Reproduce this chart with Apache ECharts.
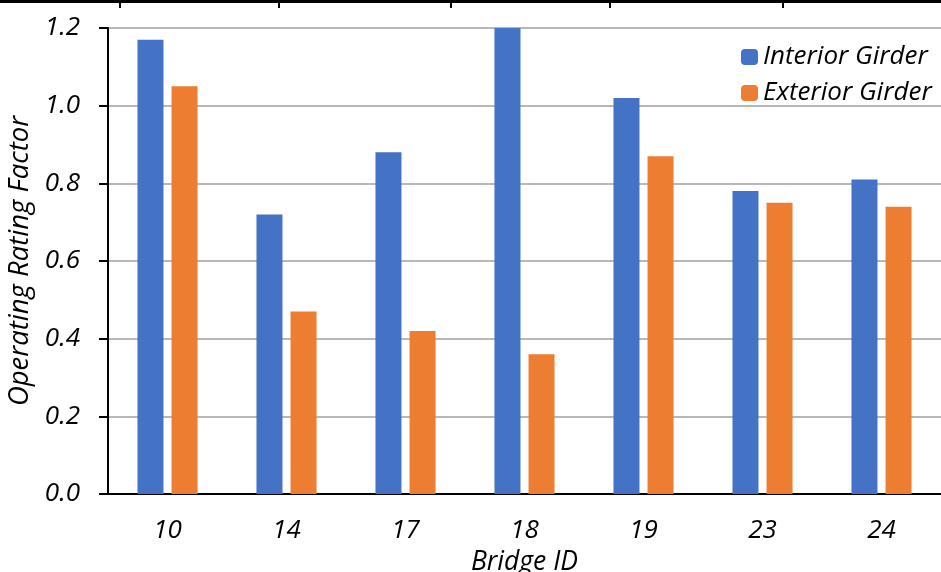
<!DOCTYPE html>
<html><head><meta charset="utf-8">
<script src="https://cdn.jsdelivr.net/npm/echarts@6/dist/echarts.min.js"></script>
<style>html,body{margin:0;padding:0;background:#fff}#c{width:941px;height:572px}</style>
</head><body><div id="c"></div>
<script>
const categories = ['10','14','17','18','19','23','24'];
const interiorGirder = [1.17, 0.72, 0.88, 1.20, 1.02, 0.78, 0.81];
const exteriorGirder = [1.05, 0.47, 0.42, 0.36, 0.87, 0.75, 0.74];
const yTicks = [0, 0.2, 0.4, 0.6, 0.8, 1.0, 1.2];

const FONT = 'Open Sans';
const chart = echarts.init(document.getElementById('c'));
chart.setOption({
  animation: false,
  grid: { left: 108, right: 0, top: 28, bottom: 78, outerBoundsMode: 'none' },
  legend: {
    orient: 'vertical', left: 741, top: 44, padding: 0,
    itemWidth: 17, itemHeight: 16, itemGap: 10,
    textStyle: { fontFamily: FONT, fontStyle: 'italic', fontSize: 26, color: '#000' },
    data: ['Interior Girder', 'Exterior Girder']
  },
  xAxis: {
    type: 'category', data: categories,
    name: 'Bridge ID', nameLocation: 'middle', nameGap: 54,
    nameTextStyle: { fontFamily: FONT, fontStyle: 'italic', fontSize: 26.5, color: '#000' },
    axisLine: { lineStyle: { color: '#000', width: 2 } },
    axisTick: { show: false },
    axisLabel: { fontFamily: FONT, fontStyle: 'italic', fontSize: 26, color: '#000', margin: 24 }
  },
  yAxis: {
    type: 'value', min: 0, max: 1.2, interval: 0.2,
    name: 'Operating Rating Factor', nameLocation: 'middle', nameGap: 71,
    nameTextStyle: { fontFamily: FONT, fontStyle: 'italic', fontSize: 27.5, color: '#000' },
    axisLine: { show: true, lineStyle: { color: '#000', width: 2 } },
    axisTick: { show: true, length: 9, lineStyle: { color: '#000', width: 2 } },
    axisLabel: { fontFamily: FONT, fontStyle: 'italic', fontSize: 26, color: '#000', margin: 28,
      formatter: v => v.toFixed(1) },
    splitLine: { lineStyle: { color: '#b8b8b8', width: 2 } }
  },
  series: [
    { name: 'Interior Girder', type: 'bar', data: interiorGirder, barWidth: 26, barGap: '31%',
      itemStyle: { color: '#4472c4' } },
    { name: 'Exterior Girder', type: 'bar', data: exteriorGirder, barWidth: 26,
      itemStyle: { color: '#ed7d31' } }
  ],
  graphic: [
    { type: 'line', shape: { x1: 0, y1: 1.5, x2: 941, y2: 1.5 }, style: { stroke: '#000', lineWidth: 3 } },
    ...[120, 279, 451, 610, 783].map(x => ({ type: 'line', shape: { x1: x, y1: 0, x2: x, y2: 8 }, style: { stroke: '#000', lineWidth: 2 } }))
  ]
});
</script></body></html>
